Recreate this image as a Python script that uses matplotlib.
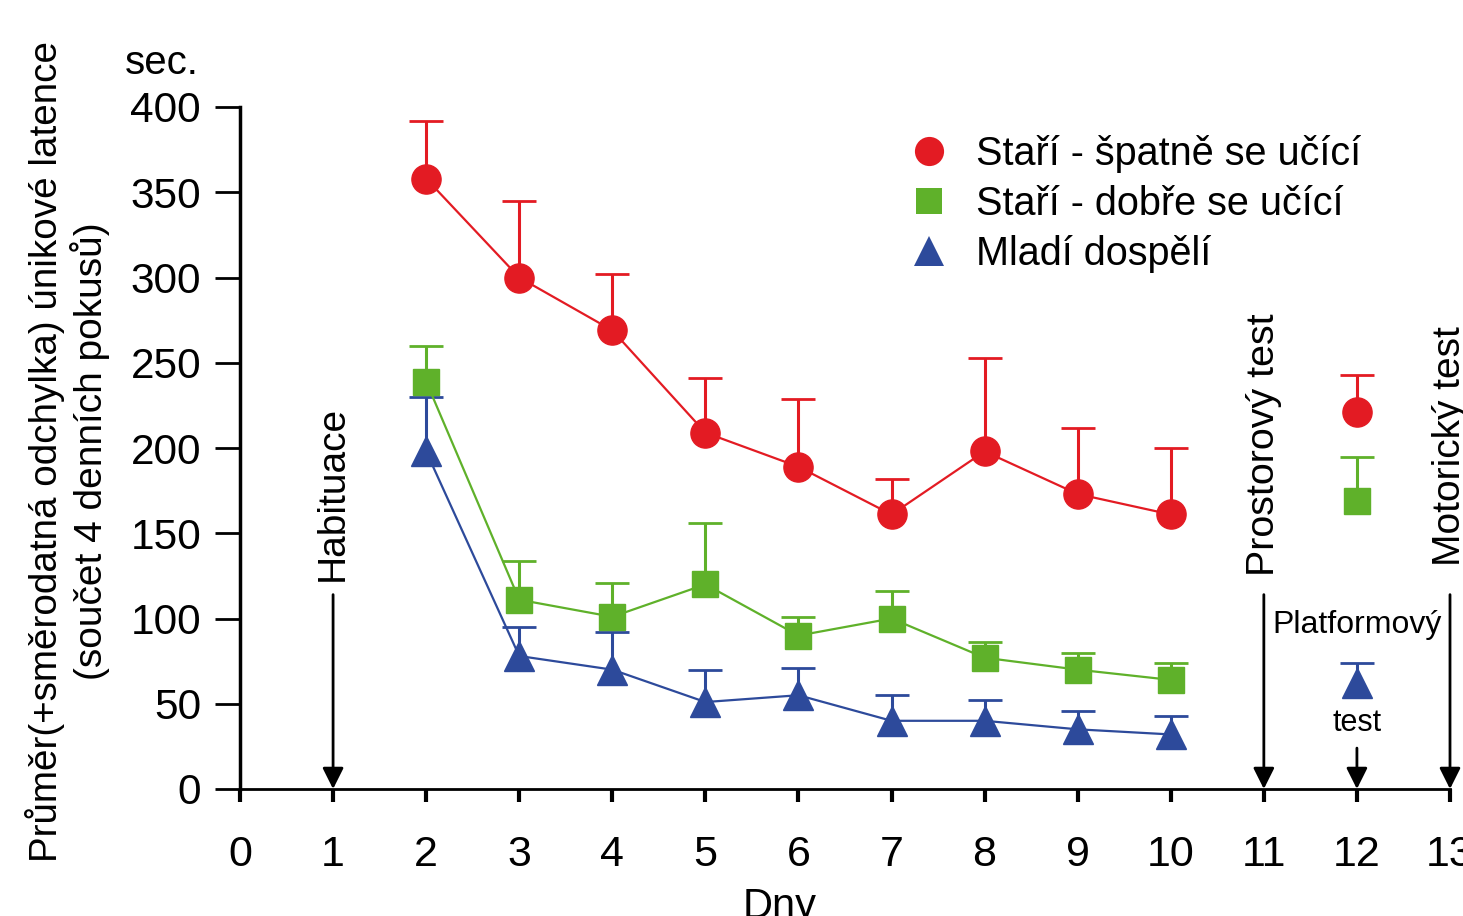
import numpy as np
import matplotlib
matplotlib.use("Agg")
import matplotlib.pyplot as plt
from matplotlib.lines import Line2D

plt.rcParams['font.family'] = ['Liberation Sans', 'DejaVu Sans']

# training days and one test day (12)
days = [2, 3, 4, 5, 6, 7, 8, 9, 10]
test_day = 12

# Staří - špatně se učící
bad_mean = [358, 300, 269, 209, 189, 161, 198, 173, 161]
bad_sd = [34, 45, 33, 32, 40, 21, 55, 39, 39]
bad_test = 221
bad_test_sd = 22

# Staří - dobře se učící
good_mean = [239, 111, 101, 120, 90, 100, 77, 70, 64]
good_sd = [21, 23, 20, 36, 11, 16, 9, 10, 10]
good_test = 169
good_test_sd = 26

# Mladí dospělí
young_mean = [198, 78, 70, 51, 55, 40, 40, 35, 32]
young_sd = [32, 17, 22, 19, 16, 15, 12, 11, 11]
young_test = 62
young_test_sd = 12

labels = ["Staří - špatně se učící", "Staří - dobře se učící", "Mladí dospělí"]
xticks = list(range(0, 14))
yticks = [0, 50, 100, 150, 200, 250, 300, 350, 400]

red = "#e31b23"
green = "#5fb12a"
blue = "#2d4a9b"

fig = plt.figure(figsize=(14.63, 9.16), dpi=100)
ax = fig.add_axes([240 / 1463, 127 / 916, 1210 / 1463, 682 / 916])

series = [
    (bad_mean, bad_sd, bad_test, bad_test_sd, red, "o", 21),
    (good_mean, good_sd, good_test, good_test_sd, green, "s", 19),
    (young_mean, young_sd, young_test, young_test_sd, blue, "^", 22),
]
for mean, sd, tmean, tsd, col, mk, ms in series:
    for xs, ys, es, lw in [(days, mean, sd, 1.6), ([test_day], [tmean], [tsd], 0)]:
        # upper error bar only
        eb = ax.errorbar(xs, ys, yerr=[np.zeros(len(es)), es], fmt='none', ecolor=col,
                         capsize=12, capthick=2, elinewidth=2.2, clip_on=False, zorder=2)
        eb[1][0].set_visible(False)
        ax.plot(xs, ys, color=col, lw=lw, marker=mk, markersize=ms, mec=col, mfc=col,
                clip_on=False, zorder=3)

ax.set_xlim(0, 13)
ax.set_ylim(0, 400)
ax.set_xticks(xticks)
ax.set_yticks(yticks)
ax.tick_params(axis='y', direction='out', length=18, width=2, pad=10, labelsize=30.5)
ax.tick_params(axis='x', direction='out', length=9, width=3, pad=24, labelsize=31)
for s in ['top', 'right']:
    ax.spines[s].set_visible(False)
ax.spines['left'].set_linewidth(2.5)
ax.spines['bottom'].set_linewidth(2)

arrow = dict(arrowstyle='-|>', color='black', lw=2, mutation_scale=32, shrinkA=0, shrinkB=0)
for xa, top in [(1, 114), (11, 114), (13, 114), (12, 24)]:
    ax.annotate('', xy=(xa, 0), xytext=(xa, top), arrowprops=arrow, annotation_clip=False)

ax.text(1, 122, "Habituace", rotation=90, ha='center', va='bottom', fontsize=28, clip_on=False)
ax.text(11, 125, "Prostorový test", rotation=90, ha='center', va='bottom', fontsize=28.4, clip_on=False)
ax.text(13, 131, "Motorický test", rotation=90, ha='center', va='bottom', fontsize=28, clip_on=False)
ax.text(12, 96, "Platformový", ha='center', va='center', fontsize=23, clip_on=False)
ax.text(12, 39, "test", ha='center', va='center', fontsize=22, clip_on=False)
ax.text(-0.84, 426, "sec.", ha='center', va='center', fontsize=29, clip_on=False)

fig.text(45 / 1463, 1 - 451 / 916, "Průměr(+směrodatná odchylka) únikové latence",
         rotation=90, ha='center', va='center', fontsize=27.8)
fig.text(90 / 1463, 1 - 451 / 916, "(součet 4 denních pokusů)",
         rotation=90, ha='center', va='center', fontsize=28)
fig.text(780 / 1463, 1 - 887 / 916, "Dny", ha='center', va='top', fontsize=30)

handles = [Line2D([], [], color=c, marker=m, markersize=s, linestyle='none', markeredgewidth=0)
           for c, m, s in [(red, 'o', 21), (green, 's', 19), (blue, '^', 22)]]
ax.legend(handles, labels, loc='upper left', bbox_to_anchor=(0.52, 1.011), frameon=False,
          fontsize=28.5, handletextpad=0.6, labelspacing=0.3, handlelength=1.2)

fig.savefig("out.png", dpi=100)
